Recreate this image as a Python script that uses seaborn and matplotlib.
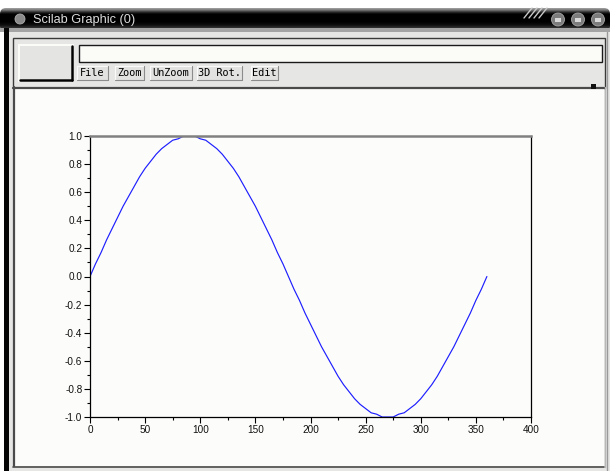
import numpy as np
import pandas as pd
import matplotlib
matplotlib.use("Agg")
import matplotlib.pyplot as plt
import seaborn as sns
from matplotlib.patches import Rectangle, Circle, FancyBboxPatch
from matplotlib.ticker import MultipleLocator, FormatStrFormatter

# ---- data ----
angle_deg = [0, 5, 10, 15, 20, 25, 30, 35, 40, 45, 50, 55, 60, 65, 70, 75, 80, 85, 90,
             95, 100, 105, 110, 115, 120, 125, 130, 135, 140, 145, 150, 155, 160, 165, 170, 175, 180,
             185, 190, 195, 200, 205, 210, 215, 220, 225, 230, 235, 240, 245, 250, 255, 260, 265, 270,
             275, 280, 285, 290, 295, 300, 305, 310, 315, 320, 325, 330, 335, 340, 345, 350, 355, 360]
value = [0.00, 0.09, 0.17, 0.26, 0.34, 0.42, 0.50, 0.57, 0.64, 0.71, 0.77, 0.82, 0.87, 0.91, 0.94,
         0.97, 0.98, 1.00, 1.00,
         1.00, 0.98, 0.97, 0.94, 0.91, 0.87, 0.82, 0.77, 0.71, 0.64, 0.57, 0.50, 0.42, 0.34, 0.26,
         0.17, 0.09, 0.00,
         -0.09, -0.17, -0.26, -0.34, -0.42, -0.50, -0.57, -0.64, -0.71, -0.77, -0.82, -0.87, -0.91,
         -0.94, -0.97, -0.98, -1.00, -1.00,
         -1.00, -0.98, -0.97, -0.94, -0.91, -0.87, -0.82, -0.77, -0.71, -0.64, -0.57, -0.50, -0.42,
         -0.34, -0.26, -0.17, -0.09, 0.00]
x_ticks = [0, 50, 100, 150, 200, 250, 300, 350, 400]
y_ticks = [-1.0, -0.8, -0.6, -0.4, -0.2, 0.0, 0.2, 0.4, 0.6, 0.8, 1.0]
window_title = "Scilab Graphic (0)"
menu_buttons = ["File", "Zoom", "UnZoom", "3D Rot.", "Edit"]

df = pd.DataFrame({"angle": angle_deg, "value": value})

sns.set_theme(style="white")
plt.rcParams["font.family"] = ["Liberation Sans", "DejaVu Sans"]
plt.rcParams["axes.unicode_minus"] = False

W, H = 610, 471
fig = plt.figure(figsize=(W / 100, H / 100), dpi=100)
fig.patch.set_facecolor("white")

# ---- window chrome (background axes in pixel coords) ----
bg = fig.add_axes([0, 0, 1, 1], zorder=0)
bg.set_xlim(0, W)
bg.set_ylim(H, 0)
bg.axis("off")

# title bar gradient
grad = np.array([0.60, 0.45, 0.25, 0.08, 0.0, 0.0, 0.0, 0.0, 0.0, 0.0, 0.02, 0.05, 0.10, 0.18])
img = np.tile(grad[:, None], (1, 10))
tb_clip = FancyBboxPatch((0, 8), W, 24, boxstyle="round,pad=0,rounding_size=6",
                         transform=bg.transData, facecolor="none", edgecolor="none")
bg.add_patch(tb_clip)
im = bg.imshow(img, cmap="gray", vmin=0, vmax=1, extent=(0, W, 28, 8), aspect="auto",
               interpolation="bilinear", zorder=1)
im.set_clip_path(tb_clip)
bg.add_patch(Rectangle((0, 28), W, 4, facecolor="#a4a4a4", edgecolor="none", zorder=1))

# title bar decorations
bg.add_patch(Circle((20, 19), 5, facecolor="#8a8a8a", edgecolor="#b0b0b0", lw=0.6, zorder=2))
bg.text(33, 19.5, window_title, color="#dcdcdc", fontsize=9.2, va="center", ha="left",
        family=["Liberation Sans", "DejaVu Sans"], zorder=3)
for cx in (558, 578, 598):
    bg.add_patch(Circle((cx, 19.5), 6.5, facecolor="#7c7c7c", edgecolor="#a8a8a8", lw=0.6, zorder=2))
    bg.add_patch(Rectangle((cx - 3, 18), 6, 4, facecolor="#d8d8d8", edgecolor="none", zorder=3))
for i in range(4):
    x0 = 524 + i * 5
    bg.plot([x0, x0 + 8], [18, 8], color="#c8c8c8", lw=1.0, zorder=2)

# window body
bg.add_patch(Rectangle((9, 32), W - 9, H - 32, facecolor="#e6e6e4", edgecolor="none", zorder=1))
bg.add_patch(Rectangle((4, 28), 5, H - 28, facecolor="#050505", edgecolor="none", zorder=1))
bg.plot([607, 607], [32, H], color="#9a9a9a", lw=1, zorder=2)

# toolbar frame
bg.add_patch(Rectangle((12.5, 37.5), 592, 50, facecolor="#e6e6e4", edgecolor="#3a3a3a", lw=1, zorder=2))
# blank big button
bg.add_patch(Rectangle((18, 44), 56, 38, facecolor="#fbfbf8", edgecolor="none", zorder=3))
bg.add_patch(Rectangle((20, 46), 51, 33, facecolor="#e4e4e2", edgecolor="none", zorder=3))
bg.plot([20, 72], [79.5, 79.5], color="#000000", lw=1.8, zorder=4)
bg.plot([71.5, 71.5], [46, 80], color="#000000", lw=1.8, zorder=4)
# text field
bg.add_patch(Rectangle((78.5, 44.5), 523, 17.5, facecolor="#fbfbf8", edgecolor="#1a1a1a", lw=1, zorder=3))
# menu buttons
btn_x = [(77, 108), (115, 144), (150, 192), (197, 242), (251, 278)]
for (xa, xb), label in zip(btn_x, menu_buttons):
    bg.add_patch(Rectangle((xa, 66), xb - xa, 14, facecolor="#e2e2e0", edgecolor="none", zorder=3))
    bg.plot([xa, xb], [66.3, 66.3], color="#fafafa", lw=0.8, zorder=4)
    bg.plot([xa + 0.3, xa + 0.3], [66, 80], color="#fafafa", lw=0.8, zorder=4)
    bg.plot([xa, xb], [79.7, 79.7], color="#8c8c8c", lw=0.8, zorder=4)
    bg.plot([xb - 0.3, xb - 0.3], [66, 80], color="#8c8c8c", lw=0.8, zorder=4)
    bg.text((xa + xb) / 2, 73.5, label, fontsize=7.4, family="DejaVu Sans Mono",
            color="#000000", ha="center", va="center", zorder=5)

# graphic canvas
bg.add_patch(Rectangle((13, 87), 591, 379, facecolor="#fcfdfa", edgecolor="none", zorder=3))
bg.plot([13, 604], [87.5, 87.5], color="#4a4a4a", lw=1.6, zorder=4)
bg.plot([13.5, 13.5], [87, 466], color="#4a4a4a", lw=1.6, zorder=4)
bg.plot([13, 604], [466.5, 466.5], color="#4a4a4a", lw=1.2, zorder=4)
bg.plot([604.5, 604.5], [87, 467], color="#b8b8b8", lw=1, zorder=4)
bg.add_patch(Rectangle((591, 84), 5, 5, facecolor="#101010", edgecolor="none", zorder=5))

# ---- the plot ----
left, right, top, bottom = 90, 531, 136, 417
ax = fig.add_axes([left / W, 1 - bottom / H, (right - left) / W, (bottom - top) / H], zorder=2)
ax.set_facecolor("none")
sns.lineplot(data=df, x="angle", y="value", ax=ax, color="#1e1eff", lw=0.85, sort=False,
             estimator=None)
ax.set_xlim(0, 400)
ax.set_ylim(-1, 1)
ax.set_xlabel("")
ax.set_ylabel("")
ax.set_xticks(x_ticks)
ax.set_yticks(y_ticks)
ax.xaxis.set_minor_locator(MultipleLocator(25))
ax.yaxis.set_minor_locator(MultipleLocator(0.1))
ax.yaxis.set_major_formatter(FormatStrFormatter("%.1f"))
ax.tick_params(axis="both", which="major", direction="out", length=4, width=0.8,
               color="#000000", labelsize=7.2, labelcolor="#111111", pad=1.5)
ax.tick_params(axis="both", which="minor", direction="out", length=2, width=0.8, color="#000000")
ax.tick_params(axis="x", which="both", bottom=True, top=False)
ax.tick_params(axis="y", which="both", left=True, right=False)
for s in ("left", "bottom", "right"):
    ax.spines[s].set_visible(True)
    ax.spines[s].set_color("#000000")
    ax.spines[s].set_linewidth(0.9)
ax.spines["top"].set_visible(True)
ax.spines["top"].set_color("#808080")
ax.spines["top"].set_linewidth(1.8)
ax.grid(False)

fig.savefig("out.png", dpi=100)
